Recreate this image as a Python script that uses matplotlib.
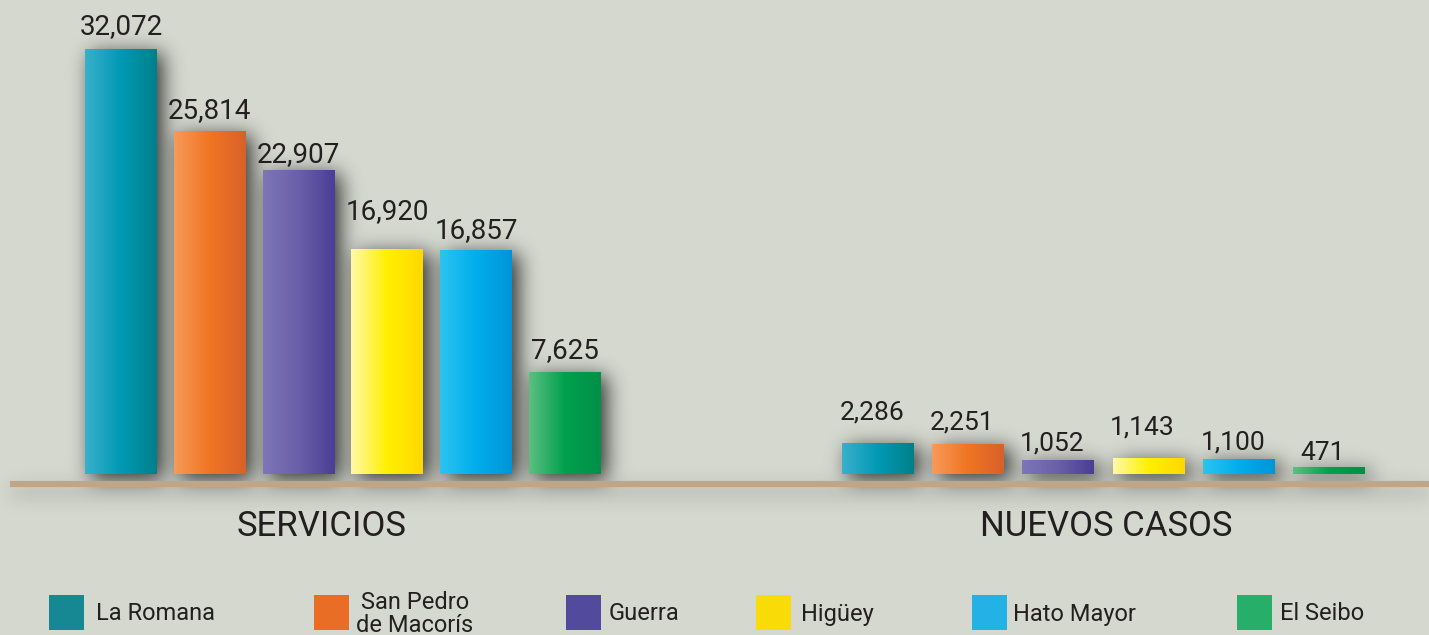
import numpy as np
import matplotlib.pyplot as plt
from matplotlib.patches import Rectangle
from matplotlib.colors import LinearSegmentedColormap

plt.rcParams['font.family'] = ['Roboto', 'DejaVu Sans']

# data
municipios = ['La Romana', 'San Pedro\nde Macorís', 'Guerra', 'Higüey', 'Hato Mayor', 'El Seibo']
grupos = ['SERVICIOS', 'NUEVOS CASOS']
servicios = [32072, 25814, 22907, 16920, 16857, 7625]
nuevos_casos = [2286, 2251, 1052, 1143, 1100, 471]

# bar gradients (left, middle, right) and flat legend colours
gradientes = [('#3ab0cc', '#0099b5', '#00808a'),
              ('#f79a5a', '#f07522', '#d8612a'),
              ('#7d76b8', '#6a5fa8', '#4a3e95'),
              ('#fff9a8', '#fff000', '#ffd800'),
              ('#2cc4f0', '#00aeec', '#0095d8'),
              ('#5cc083', '#00a04e', '#009048')]
leyenda_col = ['#168894', '#e96d25', '#514a9d', '#f9dc07', '#23b1e6', '#27ae68']

bg = '#d5d8cf'
W, H = 1429, 635
k = 425 / 32072.0          # pixels per unit
fig = plt.figure(figsize=(W / 100, H / 100), dpi=100, facecolor=bg)
ax = fig.add_axes([0, 0, 1, 1])
ax.set_facecolor(bg)
ylim = (-161 / k, 474 / k)
ax.set_xlim(0, W)
ax.set_ylim(*ylim)
ax.axis('off')

def px(p):
    return p / k

grad = np.linspace(0, 1, 256).reshape(1, -1)
inicio = [121, 878]
paso = [88.8, 90.2]
ancho = 72
off_serv = [9, 8, 2, 25, 7, 9]
off_nuev = [19, 10, 5, 19, 5, 3]

mask = np.zeros((H, W))
for g, (vals, offs) in enumerate([(servicios, off_serv), (nuevos_casos, off_nuev)]):
    for i, v in enumerate(vals):
        c = inicio[g] + i * paso[g]
        x0, x1 = c - ancho / 2, c + ancho / 2
        (dx0, dy0), (dx1, dy1) = ax.transData.transform([(x0, 0), (x1, v)])
        mask[int(H - dy1) + 4:int(H - dy0) + 5, int(dx0) + 7:int(dx1) + 7] = 1
        cmap = LinearSegmentedColormap.from_list('g%d' % i, gradientes[i])
        ax.imshow(grad, cmap=cmap, extent=(x0, x1, 0, v), aspect='auto', zorder=2)
        fs = 20 if g == 0 else 19
        ax.text(c - (0 if g == 0 else 6), v + px(offs[i]), f'{v:,}', ha='center', va='bottom',
                fontsize=fs, color='#231f20', zorder=3)

# baseline shadow strip
mask[488:495, 10:] = np.maximum(mask[488:495, 10:], 0.35)

# soft drop shadow (gaussian blur)
t = np.arange(-40, 41)
kern = np.exp(-0.5 * (t / 10.0) ** 2)
kern /= kern.sum()
blur = np.apply_along_axis(lambda r: np.convolve(r, kern, mode='same'), 1, mask)
blur = np.apply_along_axis(lambda r: np.convolve(r, kern, mode='same'), 0, blur)
sombra = np.zeros((H, W, 4))
sombra[..., 3] = np.clip(blur * 0.75, 0, 1)
ax.imshow(sombra, extent=(0, W, ylim[0], ylim[1]), aspect='auto', zorder=1)

# baseline
ax.plot([10, W], [px(-10)] * 2, color='#c2a584', lw=4.4, zorder=4, solid_capstyle='butt')

# group titles
ax.text(322, px(-52), grupos[0], ha='center', va='center', fontsize=25,
        color='#231f20')
ax.text(1106, px(-52), grupos[1], ha='center', va='center', fontsize=25,
        color='#231f20')

# legend
cuadros = [49, 314, 566, 756, 972, 1237]
textos_x = [96, 415, 609, 801, 1013, 1280]
for i, nombre in enumerate(municipios):
    ax.add_patch(Rectangle((cuadros[i], px(-156)), 35, px(35),
                           facecolor=leyenda_col[i], edgecolor='none', zorder=3))
    if '\n' in nombre:
        ax.text(textos_x[i], px(-140), nombre, ha='center', va='center', fontsize=17,
                color='#231f20', linespacing=1.05)
    else:
        ax.text(textos_x[i], px(-140), nombre, ha='left', va='center', fontsize=17,
                color='#231f20')

ax.set_xlim(0, W)
ax.set_ylim(*ylim)
fig.savefig('out.png', dpi=100, facecolor=bg)
